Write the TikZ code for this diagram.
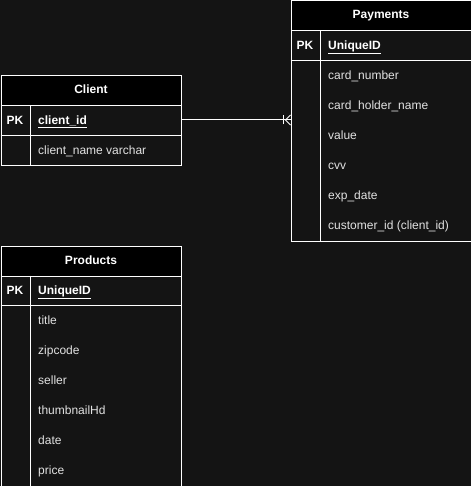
\documentclass[tikz,border=0pt]{standalone}
\usepackage{fontspec}
\setmainfont{Liberation Sans}
\definecolor{canvas}{HTML}{141414}
\definecolor{fieldtext}{HTML}{E2E2E2}

\tikzset{
  txt/.style={font=\fontsize{12}{14}\selectfont},
  tbl/.style={draw=white, line width=1pt, anchor=north west, inner sep=0pt, minimum width=180pt},
  head/.style={tbl, fill=black, minimum height=30pt, text=white, text height=9pt, text depth=3pt, font=\fontsize{12}{14}\selectfont\bfseries},
  pk/.style={text=white, inner sep=0pt, text height=9pt, text depth=3pt, font=\fontsize{12}{14}\selectfont\bfseries},
  field/.style={anchor=west, text=fieldtext, inner sep=0pt, text height=9pt, text depth=3pt, txt},
  grid/.style={white, line width=1pt},
}

\begin{document}
\begin{tikzpicture}[x=1pt,y=-1pt]
  \fill[canvas] (0,0) rectangle (471,486);
  \useasboundingbox (0,0) rectangle (471,486);

  % Client
  \begin{scope}[shift={(0.5,75.5)}]
    \node[tbl, minimum height=90pt] (client) at (0,0) {};
    \node[head] (clienthead) at (0,0) {Client};
    \draw[grid] (0,60) -- (180,60);
    \draw[grid] (30,30) -- (30,90);
    \node[pk] (clientpk) at (14.5,46) {PK};
    \node[field, pk, anchor=west] (clientid) at (37.5,46) {\underline{client\_id}};
    \node[field] (clientname) at (37.5,76) {client\_name varchar};
  \end{scope}

  % Payments
  \begin{scope}[shift={(290.5,0.5)}]
    \node[tbl, minimum height=240pt] (pay) at (0,0) {};
    \node[head] (payhead) at (0,0) {Payments};
    \draw[grid] (0,60) -- (180,60);
    \draw[grid] (30,30) -- (30,240);
    \node[pk] (paypk) at (14.5,46) {PK};
    \node[field, pk, anchor=west] (payid) at (37.5,46) {\underline{UniqueID}};
    \foreach \t [count=\i] in {card\_number, card\_holder\_name, value, cvv, exp\_date, customer\_id (client\_id)}
      \node[field] (pay\i) at (37.5,46+30*\i) {\t};
  \end{scope}

  % Products
  \begin{scope}[shift={(0.5,245.5)}]
    \node[tbl, minimum height=240pt] (prod) at (0,0) {};
    \node[head] (prodhead) at (0,0) {Products};
    \draw[grid] (0,60) -- (180,60);
    \draw[grid] (30,30) -- (30,240);
    \node[pk] (prodpk) at (14.5,46) {PK};
    \node[field, pk, anchor=west] (prodid) at (37.5,46) {\underline{UniqueID}};
    \foreach \t [count=\i] in {title, zipcode, seller, thumbnailHd, date, price}
      \node[field] (prod\i) at (37.5,46+30*\i) {\t};
  \end{scope}

  % one-or-many link
  \coordinate (cfend) at ([yshift=1.5pt]pay.west |- clientpk);
  \draw[grid] ([yshift=1.5pt]client.east |- clientpk) -- (cfend);
  \draw[grid] ([xshift=-7.5pt,yshift=-4.5pt]cfend) -- ([xshift=-7.5pt,yshift=4.5pt]cfend);
  \draw[grid] ([yshift=-5pt]cfend) -- ([xshift=-5pt]cfend) -- ([yshift=5pt]cfend);
\end{tikzpicture}
\end{document}
